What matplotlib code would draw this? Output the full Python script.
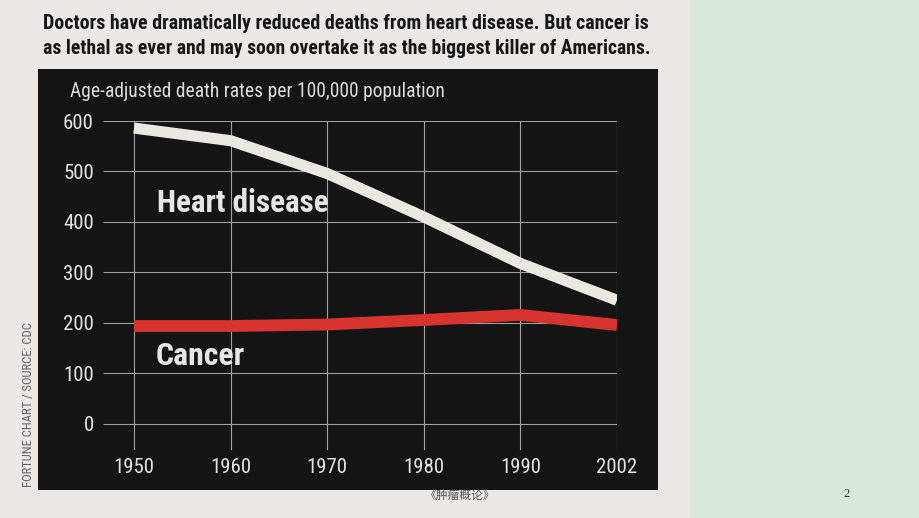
import matplotlib
matplotlib.use("Agg")
import matplotlib.pyplot as plt
from matplotlib.patches import Rectangle
from matplotlib import font_manager as fm

W, H = 920, 518

## Données
years = ["1950", "1960", "1970", "1980", "1990", "2002"]
heart = [586, 561, 496, 410, 318, 245]
cancer = [194, 194, 197, 206, 216, 196]
yticks = [0, 100, 200, 300, 400, 500, 600]

title = ["Doctors have dramatically reduced deaths from heart disease. But cancer is",
         "as lethal as ever and may soon overtake it as the biggest killer of Americans."]
subtitle = "Age-adjusted death rates per 100,000 population"
source = "FORTUNE CHART / SOURCE: CDC"
footer = "《肿瘤概论》"
page = "2"


def pick(cands, bold=False):
    # premiere famille etroite dispo (avec une graisse grasse si besoin)
    for c in cands:
        ws = [f.weight for f in fm.fontManager.ttflist if f.name == c and f.style == "normal"]
        ws = [w if isinstance(w, int) else 400 for w in ws]
        if ws and (not bold or max(ws) >= 600):
            return c
    return "Liberation Sans"


COND = ["Roboto Condensed", "Barlow Condensed", "Barlow Semi Condensed", "Archivo Narrow",
        "PT Sans Narrow", "Fira Sans Condensed", "IBM Plex Sans Condensed",
        "Sofia Sans Condensed", "Liberation Sans Narrow"]
NARROW = pick(COND)
NARROW_B = pick(COND, bold=True)

fig = plt.figure(figsize=(W / 100, H / 100), dpi=100)
fig.patch.set_facecolor("#ebe8e5")


def fx(x):
    return x / W


def fy(y):
    return 1 - y / H


def fit(t, width):
    # ajuste la taille de police pour obtenir la largeur voulue (px)
    r = fig.canvas.get_renderer()
    w = t.get_window_extent(r).width
    t.set_fontsize(t.get_fontsize() * width / w)


# panneau vert a droite
fig.add_artist(Rectangle((fx(690), 0), 1 - fx(690), 1, transform=fig.transFigure,
                         facecolor="#d8e9d9", edgecolor="none", zorder=0))
# fond noir du graphique
fig.add_artist(Rectangle((fx(38), fy(490)), (658 - 38) / W, (490 - 69) / H,
                         transform=fig.transFigure, facecolor="#141414",
                         edgecolor="none", zorder=0))

## Axes
ax = fig.add_axes([fx(103), fy(450), (617 - 103) / W, (450 - 121) / H])
ax.set_facecolor("none")
x = list(range(len(years)))
ax.set_xlim(-0.321, 5)
ax.set_ylim(-51.5, 600)

ax.hlines(yticks, -0.321, 5, color="#a0a0a0", lw=0.8, zorder=1)
ax.vlines(x, -51.5, 600, color="#a0a0a0", lw=0.8, zorder=1)

ax.plot(x, heart, color="#ebe8e2", lw=8, solid_capstyle="butt",
        solid_joinstyle="miter", zorder=3)
ax.plot(x, cancer, color="#d8342f", lw=8.5, solid_capstyle="butt",
        solid_joinstyle="miter", zorder=3)

for s in ax.spines.values():
    s.set_visible(False)
ax.set_xticks(x)
ax.set_xticklabels(years)
ax.set_yticks(yticks)
ax.set_yticklabels([str(v) for v in yticks])
ax.tick_params(length=0, colors="#e2e2e2", labelsize=15)
ax.tick_params(axis="y", pad=6.5)
ax.tick_params(axis="x", pad=6)
for lab in ax.get_xticklabels() + ax.get_yticklabels():
    lab.set_family(NARROW)

t1 = ax.text(0.24, 420, "Heart disease", color="#e6e6e6", fontsize=21,
             fontweight="bold", family=NARROW_B, va="baseline", zorder=4)
t2 = ax.text(0.22, 116, "Cancer", color="#e6e6e6", fontsize=21,
             fontweight="bold", family=NARROW_B, va="baseline", zorder=4)

## Textes
h1 = fig.text(fx(43), fy(29), title[0], fontsize=15, fontweight="bold",
              family=NARROW_B, color="#151515", va="baseline")
h2 = fig.text(fx(43), fy(54), title[1], fontsize=15, fontweight="bold",
              family=NARROW_B, color="#151515", va="baseline")
st = fig.text(fx(70), fy(97), subtitle, fontsize=13, family=NARROW,
              color="#dcdcdc", va="baseline")
src = fig.text(fx(29), fy(405), source, fontsize=10, family=NARROW,
               color="#666666", rotation=90, ha="center", va="center")
fig.text(fx(460), fy(495), footer, fontsize=8.5,
         family=["Noto Sans CJK SC", "DejaVu Sans"], color="#555555",
         ha="center", va="center")
fig.text(fx(847), fy(494), page, fontsize=9, family="Liberation Serif",
         color="#333333", ha="center", va="center")

fig.canvas.draw()
fit(h1, 602)
fit(h2, 604)
fit(st, 373)
fit(t1, 172)
fit(t2, 89)
r = fig.canvas.get_renderer()
src.set_fontsize(src.get_fontsize() * 166 / src.get_window_extent(r).height)

fig.savefig("out.png", dpi=100, facecolor=fig.get_facecolor())
